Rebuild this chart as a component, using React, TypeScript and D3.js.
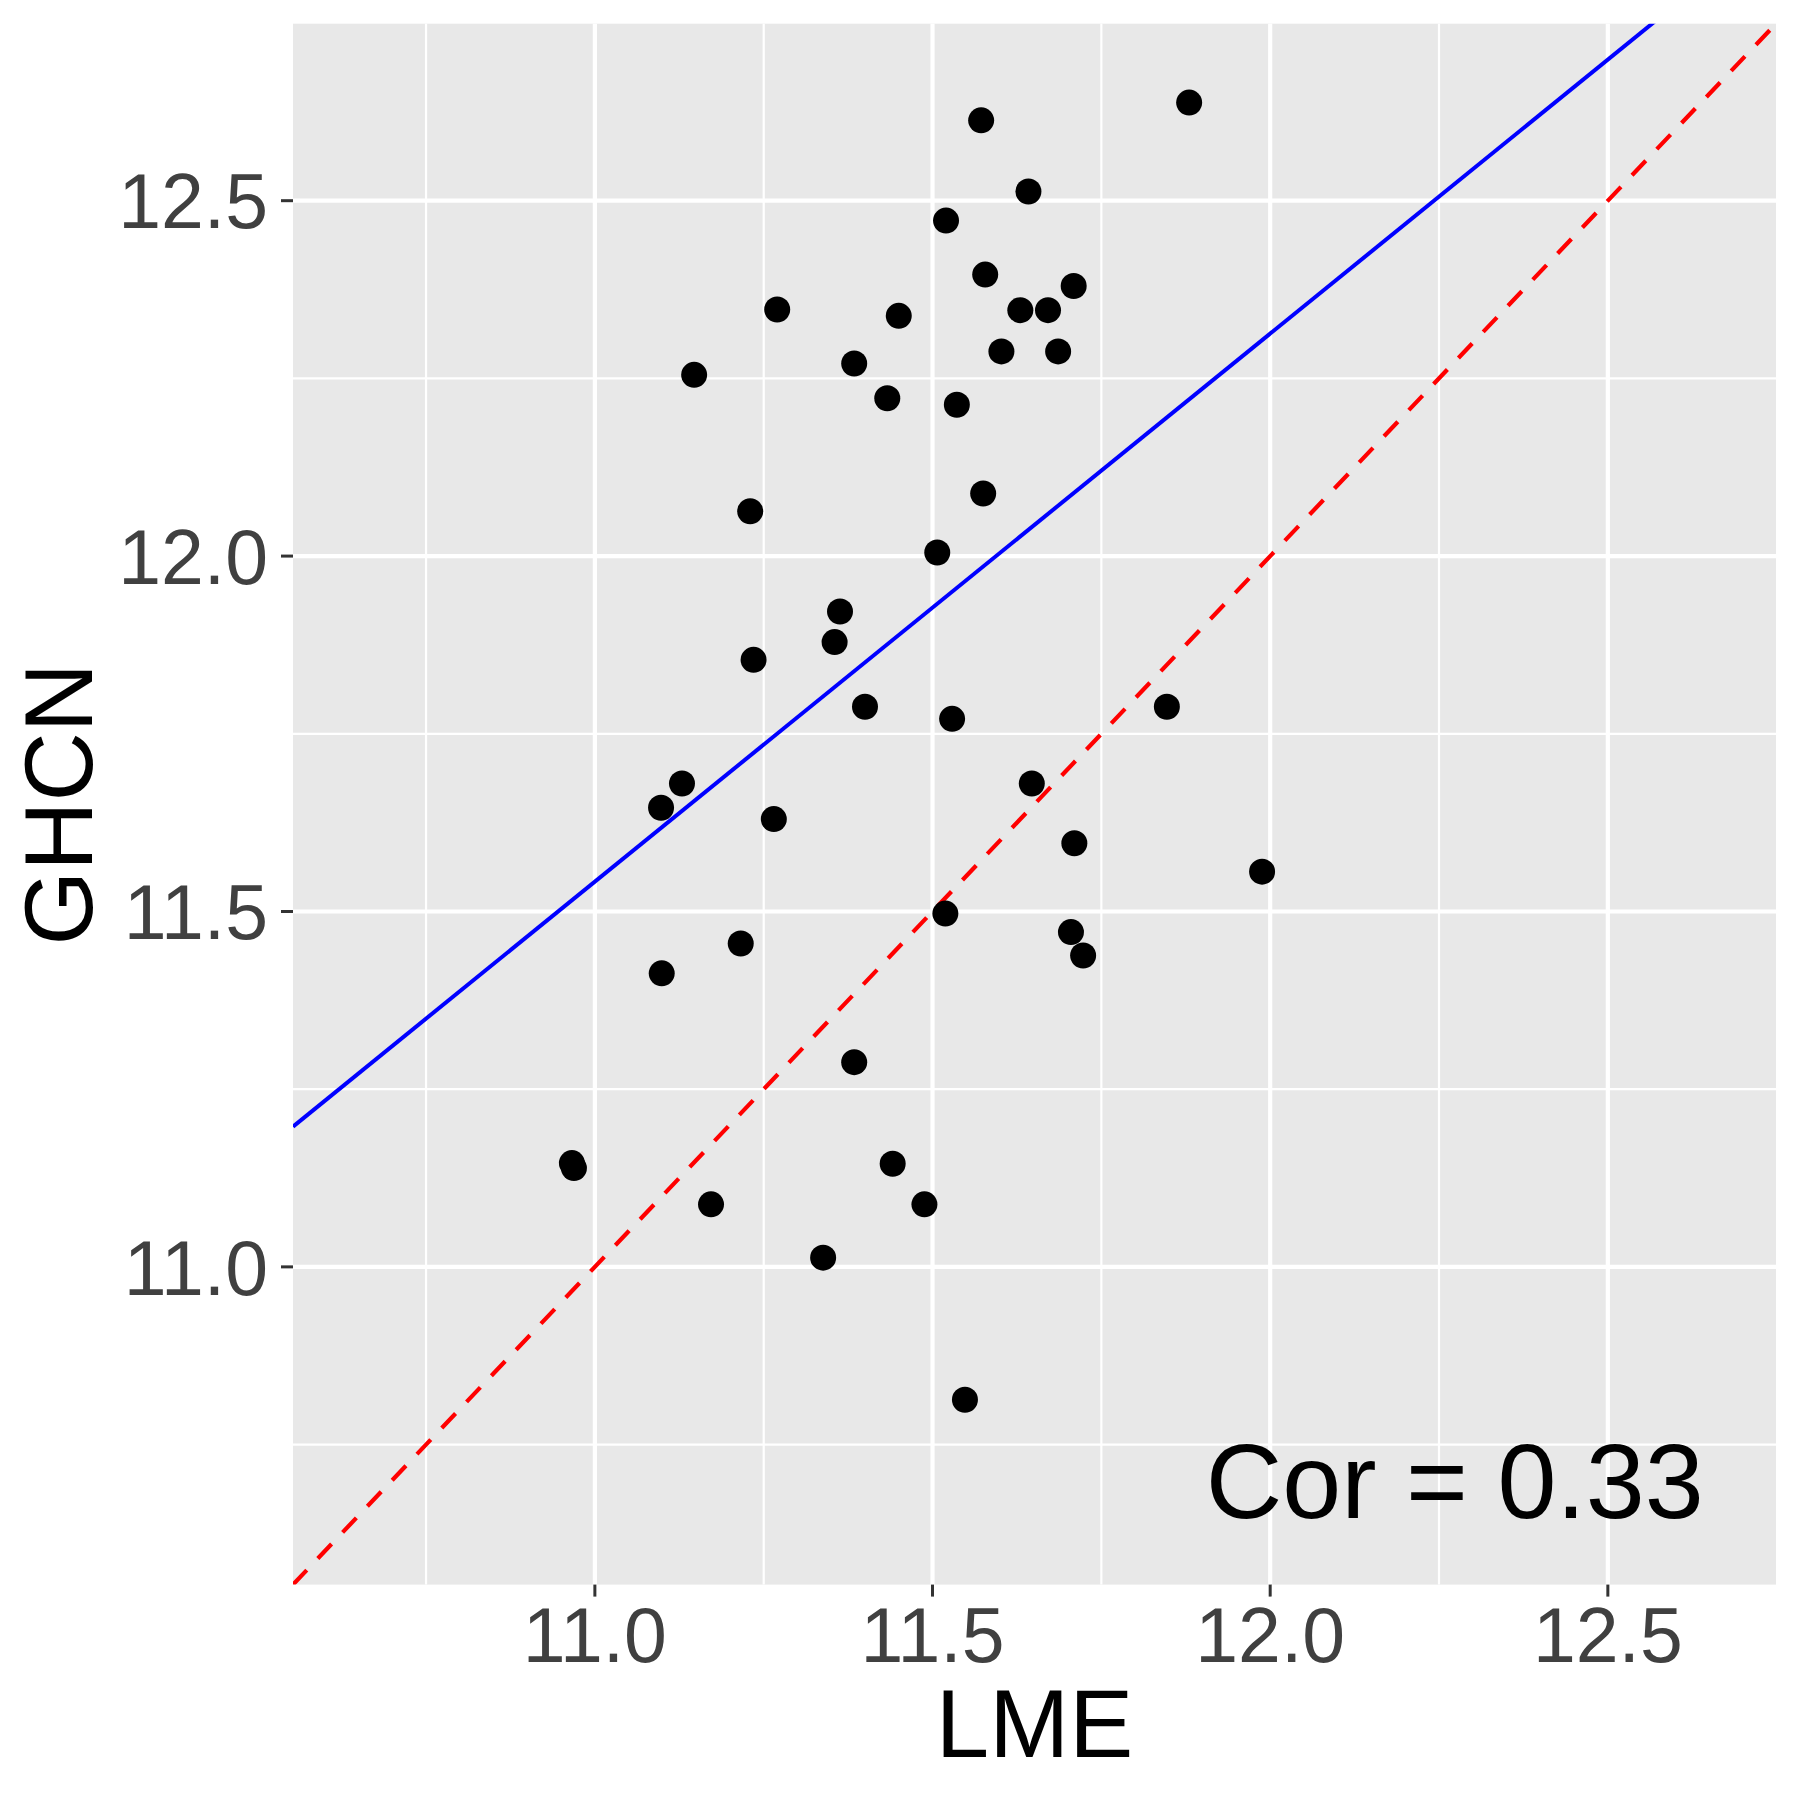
import React from "react";
import * as d3 from "d3";

// LME (x) and GHCN (y) values
const lme = [
  11.270, 11.450, 11.384, 11.433, 11.147, 11.572, 11.880, 11.642, 11.520, 11.578,
  11.709, 11.630, 11.671, 11.602, 11.686, 11.536, 11.230, 11.507, 11.363, 11.355,
  11.235, 11.400, 11.529, 11.129, 11.098, 11.265, 11.575, 11.847, 11.647, 11.710,
  11.988, 11.519, 11.216, 11.099, 11.384, 10.966, 10.969, 11.441, 11.172, 11.488,
  11.338, 11.705, 11.723, 11.548,
];
const ghcn = [
  12.347, 12.338, 12.271, 12.222, 12.255, 12.613, 12.638, 12.513, 12.472, 12.396,
  12.380, 12.346, 12.346, 12.288, 12.288, 12.213, 12.063, 12.005, 11.922, 11.879,
  11.854, 11.788, 11.771, 11.680, 11.646, 11.630, 12.088, 11.788, 11.680, 11.596,
  11.556, 11.497, 11.455, 11.413, 11.288, 11.146, 11.139, 11.145, 11.088, 11.088,
  11.013, 11.471, 11.438, 10.813,
];

const axisDomain = [10.553, 12.749];
const majorTicks = [11.0, 11.5, 12.0, 12.5];
const minorTicks = [10.75, 11.25, 11.75, 12.25];

// fitted regression line and identity line
const fitAt11 = 11.542;
const fitSlope = 0.771;
const corLabel = "Cor = 0.33";
const corPos = { x: 12.642, y: 10.7 };

const W = 1800;
const H = 1800;
const panel = { left: 293, right: 1776, top: 23.7, bottom: 1584.6 };
const FONT = "'Liberation Sans', Arial, Helvetica, sans-serif";

export default function App() {
  const x = d3.scaleLinear().domain(axisDomain).range([panel.left, panel.right]);
  const y = d3.scaleLinear().domain(axisDomain).range([panel.bottom, panel.top]);

  const fit = (v: number) => fitAt11 + fitSlope * (v - 11);
  const line = d3
    .line<[number, number]>()
    .x((d) => x(d[0]))
    .y((d) => y(d[1]));

  const fitPts: [number, number][] = [
    [axisDomain[0], fit(axisDomain[0])],
    [axisDomain[1], fit(axisDomain[1])],
  ];
  const idPts: [number, number][] = [
    [axisDomain[0], axisDomain[0]],
    [axisDomain[1], axisDomain[1]],
  ];

  const fmt = d3.format(".1f");

  return (
    <svg
      width={W}
      height={H}
      style={{ position: "absolute", left: 0, top: 0, background: "#fff" }}
      fontFamily={FONT}
    >
      <defs>
        <clipPath id="panelClip">
          <rect
            x={panel.left}
            y={panel.top}
            width={panel.right - panel.left}
            height={panel.bottom - panel.top}
          />
        </clipPath>
      </defs>
      <rect x={0} y={0} width={W} height={H} fill="#ffffff" />
      <rect
        x={panel.left}
        y={panel.top}
        width={panel.right - panel.left}
        height={panel.bottom - panel.top}
        fill="#E8E8E8"
      />
      {/* minor grid */}
      {minorTicks.map((t) => (
        <g key={"mi" + t}>
          <line x1={x(t)} x2={x(t)} y1={panel.top} y2={panel.bottom} stroke="#fff" strokeWidth={2.2} />
          <line x1={panel.left} x2={panel.right} y1={y(t)} y2={y(t)} stroke="#fff" strokeWidth={2.2} />
        </g>
      ))}
      {/* major grid */}
      {majorTicks.map((t) => (
        <g key={"ma" + t}>
          <line x1={x(t)} x2={x(t)} y1={panel.top} y2={panel.bottom} stroke="#fff" strokeWidth={4.2} />
          <line x1={panel.left} x2={panel.right} y1={y(t)} y2={y(t)} stroke="#fff" strokeWidth={4.2} />
        </g>
      ))}
      <g clipPath="url(#panelClip)">
        <path d={line(fitPts) || ""} stroke="#0000FF" strokeWidth={4} fill="none" />
        <path
          d={line(idPts) || ""}
          stroke="#FF0000"
          strokeWidth={4.2}
          strokeDasharray="20 16"
          fill="none"
        />
      </g>
      {lme.map((v, i) => (
        <circle key={i} cx={x(v)} cy={y(ghcn[i])} r={13} fill="#000" />
      ))}
      <text
        x={x(corPos.x)}
        y={y(corPos.y)}
        dy="0.36em"
        textAnchor="end"
        fontSize={106}
        fill="#000"
      >
        {corLabel}
      </text>
      {/* y axis ticks */}
      {majorTicks.map((t) => (
        <g key={"yt" + t}>
          <line x1={panel.left - 12} x2={panel.left} y1={y(t)} y2={y(t)} stroke="#333333" strokeWidth={3} />
          <text
            x={panel.left - 25}
            y={y(t)}
            dy="0.36em"
            textAnchor="end"
            fontSize={77}
            fill="#404040"
          >
            {fmt(t)}
          </text>
        </g>
      ))}
      {/* x axis ticks */}
      {majorTicks.map((t) => (
        <g key={"xt" + t}>
          <line x1={x(t)} x2={x(t)} y1={panel.bottom} y2={panel.bottom + 12} stroke="#333333" strokeWidth={3} />
          <text x={x(t)} y={1662} textAnchor="middle" fontSize={77} fill="#404040">
            {fmt(t)}
          </text>
        </g>
      ))}
      <text
        x={(panel.left + panel.right) / 2}
        y={1757}
        textAnchor="middle"
        fontSize={96}
        fill="#000"
      >
        LME
      </text>
      <text
        transform={`translate(92, ${(panel.top + panel.bottom) / 2}) rotate(-90)`}
        textAnchor="middle"
        fontSize={96}
        fill="#000"
      >
        GHCN
      </text>
    </svg>
  );
}
